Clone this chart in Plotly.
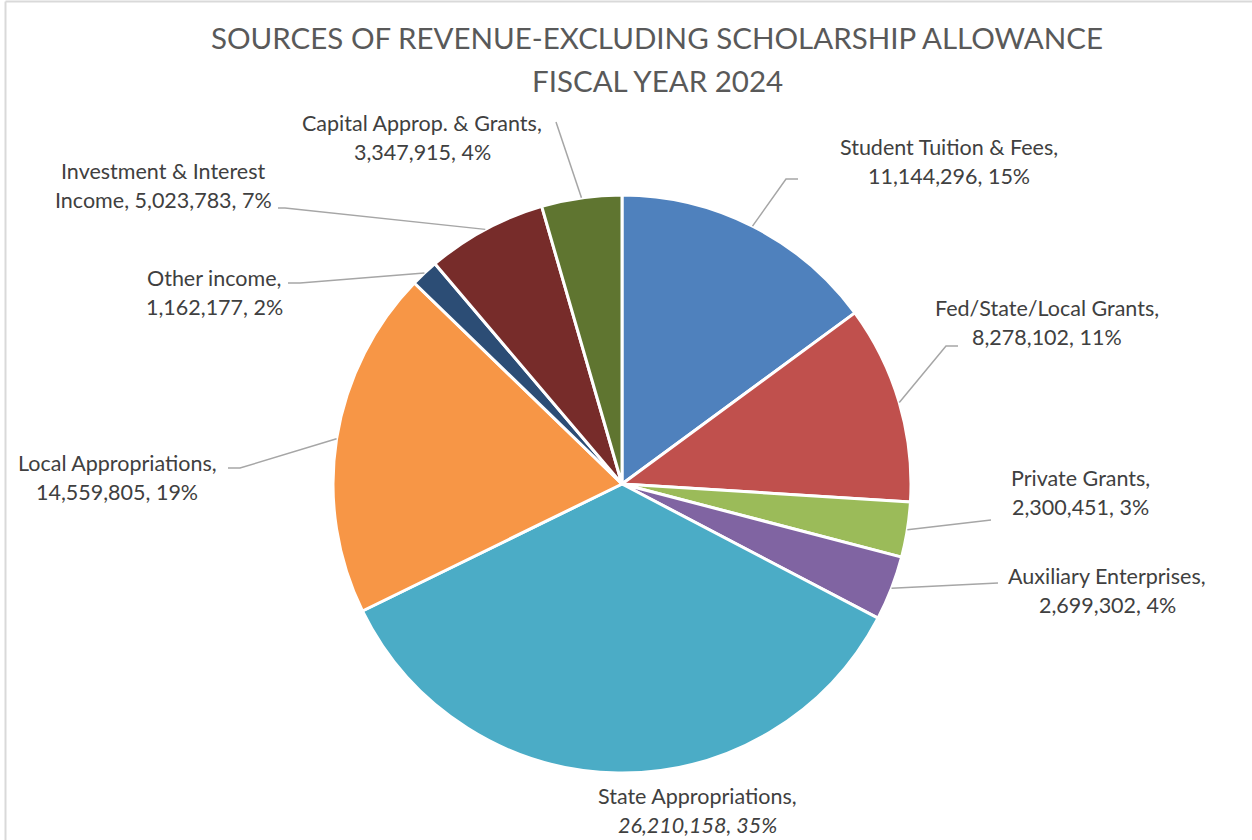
import numpy as np
import plotly.graph_objects as go

# Revenue sources, listed clockwise from 12 o'clock
categories = [
    "Student Tuition & Fees",
    "Fed/State/Local Grants",
    "Private Grants",
    "Auxiliary Enterprises",
    "State Appropriations",
    "Local Appropriations",
    "Other income",
    "Investment & Interest Income",
    "Capital Approp. & Grants",
]
revenue = [
    11144296,
    8278102,
    2300451,
    2699302,
    26210158,
    14559805,
    1162177,
    5023783,
    3347915,
]
colors = [
    "#4F81BD", "#C0504D", "#9BBB59", "#8064A2", "#4BACC6",
    "#F79646", "#2C4D75", "#772C2A", "#5F7530",
]

# Where each label's first line wraps
wrap_after = {"Investment & Interest Income": "Interest"}

# Label placement: text center x, first-line y, leader elbow and leader end (pixels)
label_pos = {
    "Student Tuition & Fees": (949, 147, (786, 179), (798, 179)),
    "Fed/State/Local Grants": (1047, 308, (946, 346), (958, 346)),
    "Private Grants": (1080, 478, (991, 520), (991, 520)),
    "Auxiliary Enterprises": (1107, 576, (998, 583), (998, 583)),
    "State Appropriations": (697, 796, None, None),
    "Local Appropriations": (117, 463, (240, 468), (228, 468)),
    "Other income": (214, 278, (300, 283), (288, 283)),
    "Investment & Interest Income": (163, 171, (285, 208), (278, 208)),
    "Capital Approp. & Grants": (422, 123, (556, 122), (556, 122)),
}

W, H = 1252, 840
CX, CY, R = 622, 484, 289
LINE_GAP = 29
TEXT_COLOR = "#404040"
FONT = "Lato"


def px(x, y):
    return x / W, 1 - y / H


total = float(sum(revenue))
shares = np.array(revenue) / total
mid_angles = 2 * np.pi * (np.cumsum(shares) - shares / 2)

fig = go.Figure(
    go.Pie(
        labels=categories,
        values=revenue,
        sort=False,
        direction="clockwise",
        rotation=0,
        textinfo="none",
        marker=dict(colors=colors, line=dict(color="white", width=3)),
        domain=dict(
            x=[(CX - R) / W, (CX + R) / W],
            y=[(H - CY - R) / H, (H - CY + R) / H],
        ),
        showlegend=False,
    )
)

annotations = []
shapes = []

for name, value, ang in zip(categories, revenue, mid_angles):
    pct = int(round(value / total * 100))
    full = f"{name}, {value:,}, {pct}%"
    if name in wrap_after:
        cut = full.index(wrap_after[name]) + len(wrap_after[name])
        first, second = full[:cut], full[cut + 1:]
    else:
        first, second = f"{name},", f"{value:,}, {pct}%"
    if name == "State Appropriations":
        second = f"<i>{second}</i>"

    tx, ty, elbow, end = label_pos[name]
    for i, line in enumerate((first, second)):
        ax, ay = px(tx, ty + i * LINE_GAP)
        annotations.append(dict(
            x=ax, y=ay, xref="paper", yref="paper",
            text=line, showarrow=False, xanchor="center", yanchor="middle",
            font=dict(family=FONT, size=21.5, color=TEXT_COLOR),
        ))

    if elbow is not None:
        sx, sy = CX + R * np.sin(ang), CY - R * np.cos(ang)
        pts = [px(sx, sy), px(*elbow), px(*end)]
        path = "M {} {} L {} {} L {} {}".format(*[c for p in pts for c in p])
        shapes.append(dict(
            type="path", path=path, xref="paper", yref="paper",
            line=dict(color="#A6A6A6", width=1.5),
        ))

# Title, two lines
for text, y in (("SOURCES OF REVENUE-EXCLUDING SCHOLARSHIP ALLOWANCE", 38),
                ("FISCAL YEAR 2024", 80)):
    ax, ay = px(657, y)
    annotations.append(dict(
        x=ax, y=ay, xref="paper", yref="paper", text=text, showarrow=False,
        xanchor="center", yanchor="middle",
        font=dict(family=FONT, size=29.5, color="#595959"),
    ))

# Chart-area border along the top and left edges
for (x0, y0, x1, y1) in ((5.5, 1.5, 5.5, H), (5.5, 1.5, W, 1.5)):
    a, b = px(x0, y0)
    c, d = px(x1, y1)
    shapes.append(dict(type="line", x0=a, y0=b, x1=c, y1=d,
                       xref="paper", yref="paper",
                       line=dict(color="#D9D9D9", width=2)))

fig.update_layout(
    width=W, height=H,
    margin=dict(l=0, r=0, t=0, b=0),
    paper_bgcolor="white",
    plot_bgcolor="white",
    annotations=annotations,
    shapes=shapes,
)

fig.write_html("out.html")
